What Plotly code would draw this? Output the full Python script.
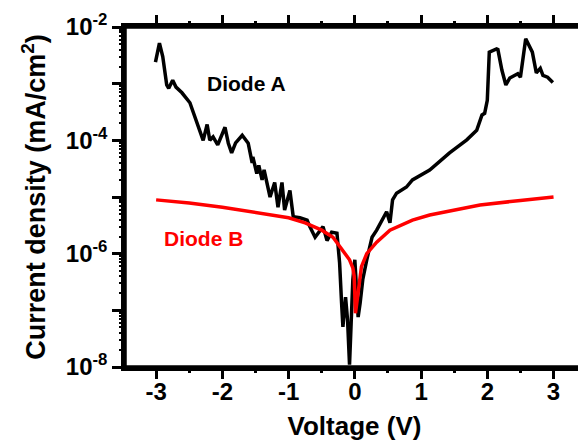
import plotly.graph_objects as go

# ---- data ----
voltage_a = [-3.01, -2.95, -2.90, -2.84, -2.81, -2.75, -2.70, -2.61, -2.49, -2.41, -2.34, -2.29,
             -2.23, -2.19, -2.14, -2.07, -1.96, -1.91, -1.86, -1.80, -1.70, -1.61, -1.55, -1.54,
             -1.48, -1.45, -1.40, -1.37, -1.28, -1.21, -1.16, -1.10, -1.06, -0.98, -0.93, -0.83,
             -0.72, -0.68, -0.60, -0.53, -0.48, -0.42, -0.35, -0.27, -0.23, -0.20, -0.18, -0.14,
             -0.11, -0.08, -0.05, -0.03, 0.00, 0.03, 0.05, 0.08, 0.12, 0.18, 0.26, 0.33, 0.41,
             0.48, 0.53, 0.57, 0.63, 0.78, 0.87, 1.13, 1.43, 1.69, 1.84, 1.92, 1.96, 2.00, 2.03,
             2.14, 2.16, 2.22, 2.28, 2.34, 2.46, 2.50, 2.58, 2.68, 2.74, 2.80, 2.84, 2.91, 2.99]
current_a = [2.4e-3, 5.2e-3, 3.0e-3, 9.5e-4, 8.3e-4, 1.15e-3, 8.7e-4, 6.9e-4, 4.6e-4, 2.6e-4,
             1.5e-4, 1.0e-4, 1.9e-4, 1.0e-4, 1.15e-4, 8.3e-5, 1.7e-4, 8.9e-5, 6.0e-5, 9.0e-5,
             1.23e-4, 8.9e-5, 4.0e-5, 5.1e-5, 2.6e-5, 3.6e-5, 2.0e-5, 3.0e-5, 1.0e-5, 1.8e-5,
             6.6e-6, 1.8e-5, 5.9e-6, 1.3e-5, 4.5e-6, 4.3e-6, 3.9e-6, 3.0e-6, 1.95e-6, 2.6e-6,
             3.0e-6, 1.7e-6, 2.4e-6, 2.3e-6, 6.9e-7, 1.35e-7, 5.1e-8, 1.7e-7, 6.8e-8, 1.1e-8,
             6.8e-8, 3.5e-7, 7.8e-7, 2.3e-7, 7.6e-8, 1.35e-7, 3.5e-7, 7.8e-7, 1.95e-6, 2.6e-6,
             3.9e-6, 5.5e-6, 3.5e-6, 8.9e-6, 1.17e-5, 1.5e-5, 2.0e-5, 3.0e-5, 6.0e-5, 1.02e-4,
             1.5e-4, 2.8e-4, 3.0e-4, 5.1e-4, 3.6e-3, 4.1e-3, 4.0e-3, 1.74e-3, 9.5e-4, 1.26e-3,
             1.5e-3, 1.3e-3, 6.2e-3, 3.6e-3, 1.55e-3, 1.86e-3, 1.4e-3, 1.3e-3, 1.05e-3]

voltage_b = [-3.0, -2.5, -2.0, -1.5, -1.0, -0.75, -0.5, -0.33, -0.18, -0.08, -0.03, -0.01,
             0.01, 0.05, 0.10, 0.18, 0.33, 0.53, 0.87, 1.13, 1.5, 1.89, 2.5, 3.0]
current_b = [8.9e-6, 7.8e-6, 6.6e-6, 5.4e-6, 4.3e-6, 3.5e-6, 2.6e-6, 1.95e-6, 1.15e-6, 7.8e-7,
             5.6e-7, 4.0e-7, 8.9e-8, 2.3e-7, 5.9e-7, 1.0e-6, 1.6e-6, 2.6e-6, 3.9e-6, 4.8e-6,
             5.9e-6, 7.2e-6, 8.7e-6, 1.0e-5]

x_tick_vals = [-3, -2, -1, 0, 1, 2, 3]
x_tick_text = ["-3", "-2", "-1", "0", "1", "2", "3"]
y_tick_vals = [1e-8, 1e-7, 1e-6, 1e-5, 1e-4, 1e-3, 1e-2]
y_tick_text = ["10<sup>-8</sup>", "", "10<sup>-6</sup>", "", "10<sup>-4</sup>", "", "10<sup>-2</sup>"]

FONT = "Liberation Sans, Arial, sans-serif"
X_RANGE = [-3.47, 3.46]
Y_RANGE = [-8, -2]

# minor tick positions (axis styling)
y_minor = [m * 10.0 ** e for e in range(-8, -2) for m in range(2, 10)]
x_minor = [v + 0.5 for v in range(-4, 4)]

fig = go.Figure()
fig.add_trace(go.Scatter(x=voltage_a, y=current_a, mode="lines",
                         line=dict(color="black", width=3.5), name="Diode A"))
fig.add_trace(go.Scatter(x=voltage_b, y=current_b, mode="lines", xaxis="x2", yaxis="y2",
                         line=dict(color="#ff0000", width=3.5), name="Diode B"))

fig.add_annotation(x=-1.63, y=-3.0, text="Diode A", showarrow=False,
                   font=dict(family=FONT, size=21, color="black", weight="bold"))
fig.add_annotation(x=-2.29, y=-5.74, text="Diode B", showarrow=False,
                   font=dict(family=FONT, size=21, color="#ff0000", weight="bold"))

# frame of the plot area
fig.add_shape(type="rect", xref="paper", yref="paper", x0=0, y0=0, x1=1, y1=1,
              line=dict(color="black", width=3.5), layer="above")

fig.update_layout(
    width=578, height=435,
    margin=dict(l=117, r=2, t=19, b=76, autoexpand=False),
    paper_bgcolor="white", plot_bgcolor="white",
    showlegend=False,
    font=dict(family=FONT, color="black"),
    xaxis=dict(
        range=X_RANGE, showgrid=False, zeroline=False, automargin=False,
        showline=True, linecolor="black", linewidth=3.5, mirror="ticks",
        ticks="outside", ticklen=8, tickwidth=3, tickcolor="black",
        tickmode="array", tickvals=x_tick_vals, ticktext=x_tick_text,
        ticklabelstandoff=-8,
        tickfont=dict(family=FONT, size=24, weight="bold"),
        title=dict(text="Voltage (V)", font=dict(family=FONT, size=26, weight="bold"), standoff=14),
    ),
    yaxis=dict(
        type="log", range=Y_RANGE, showgrid=False, zeroline=False, automargin=False,
        showline=True, linecolor="black", linewidth=3.5, mirror=True,
        ticks="outside", ticklen=9, tickwidth=3, tickcolor="black",
        tickmode="array", tickvals=y_tick_vals, ticktext=y_tick_text,
        tickfont=dict(family=FONT, size=24, weight="bold"),
        title=dict(text="Current density (mA/cm<sup>2</sup>)",
                   font=dict(family=FONT, size=27, weight="bold"), standoff=13),
    ),
    xaxis2=dict(
        overlaying="x", anchor="y", side="bottom", range=X_RANGE,
        showgrid=False, zeroline=False, showline=False, automargin=False,
        ticks="outside", ticklen=5, tickwidth=3, tickcolor="black", mirror="ticks",
        tickmode="array", tickvals=x_minor, showticklabels=False,
    ),
    yaxis2=dict(
        overlaying="y", anchor="x", side="left", type="log", range=Y_RANGE,
        showgrid=False, zeroline=False, showline=False, automargin=False,
        ticks="outside", ticklen=5, tickwidth=2, tickcolor="black",
        tickmode="array", tickvals=y_minor, showticklabels=False,
    ),
)

fig.write_html("out.html")
